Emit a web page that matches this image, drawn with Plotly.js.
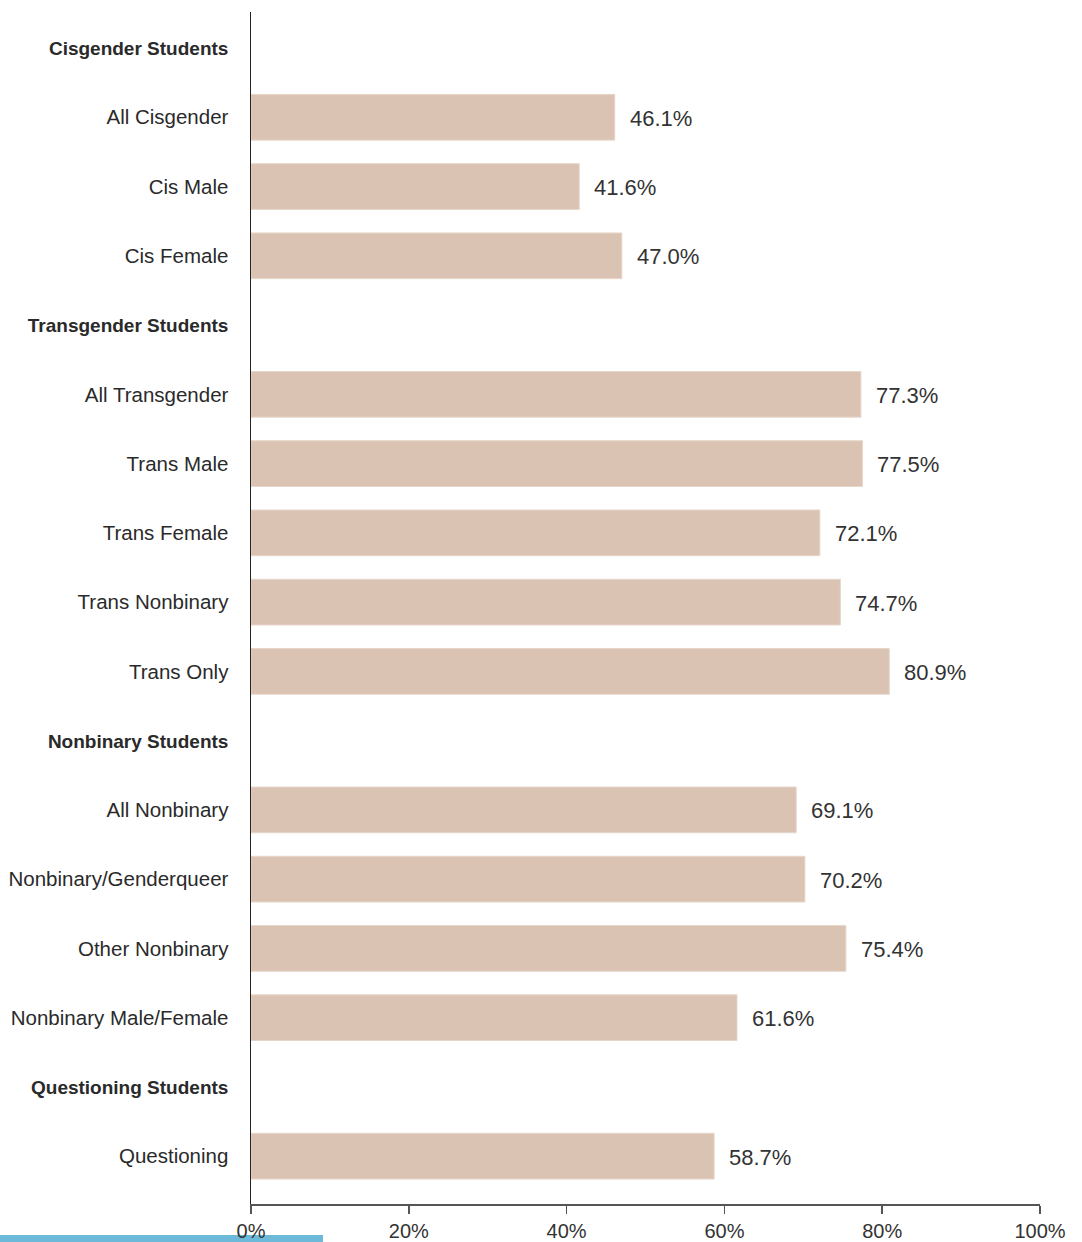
<!DOCTYPE html>
<html>
<head>
<meta charset="utf-8">
<script src="https://cdn.plot.ly/plotly-3.0.1.min.js"></script>
<style>html,body{margin:0;padding:0;background:#fff;}#chart{width:1082px;height:1242px;}</style>
</head>
<body>
<div id="chart"></div>
<script>
var categories = [
  "Cisgender Students", "All Cisgender", "Cis Male", "Cis Female",
  "Transgender Students", "All Transgender", "Trans Male", "Trans Female", "Trans Nonbinary", "Trans Only",
  "Nonbinary Students", "All Nonbinary", "Nonbinary/Genderqueer", "Other Nonbinary", "Nonbinary Male/Female",
  "Questioning Students", "Questioning"
];
var headers = ["Cisgender Students", "Transgender Students", "Nonbinary Students", "Questioning Students"];
var values = [
  null, 46.1, 41.6, 47.0,
  null, 77.3, 77.5, 72.1, 74.7, 80.9,
  null, 69.1, 70.2, 75.4, 61.6,
  null, 58.7
];
var xTickValues = [0, 20, 40, 60, 80, 100];
var xTickLabels = ["0%", "20%", "40%", "60%", "80%", "100%"];

var tickText = categories.map(function (c) {
  return headers.indexOf(c) >= 0 ? "<b><span style=\"font-size:19px\">" + c + "</span></b>" : c;
});

var fontFamily = "'Liberation Sans', Arial, sans-serif";

var annotations = [];
categories.forEach(function (c, i) {
  if (values[i] !== null) {
    annotations.push({
      x: values[i], y: c, xref: "x", yref: "y",
      text: values[i].toFixed(1) + "%",
      showarrow: false, xanchor: "left", yanchor: "middle",
      xshift: 13, yshift: -1,
      font: {family: fontFamily, size: 22, color: "#333333"}
    });
  }
});

var trace = {
  type: "bar",
  orientation: "h",
  y: categories,
  x: values,
  width: 0.66,
  marker: {color: "#dbc3b3", line: {color: "#e6d6ca", width: 1}},
  hoverinfo: "none"
};

var layout = {
  width: 1082,
  height: 1242,
  margin: {l: 251, r: 42, t: 12, b: 38},
  paper_bgcolor: "#ffffff",
  plot_bgcolor: "#ffffff",
  showlegend: false,
  font: {family: fontFamily, size: 20.5, color: "#2a2a2a"},
  xaxis: {
    range: [0, 100],
    tickvals: xTickValues,
    ticktext: xTickLabels,
    ticks: "outside",
    ticklen: 8,
    tickwidth: 1.5,
    tickcolor: "#555555",
    showline: true,
    linecolor: "#555555",
    linewidth: 1.5,
    showgrid: false,
    zeroline: false,
    fixedrange: true,
    tickfont: {family: fontFamily, size: 20, color: "#333333"}
  },
  yaxis: {
    type: "category",
    categoryorder: "array",
    categoryarray: categories,
    range: [16.69, -0.52],
    tickvals: categories,
    ticktext: tickText,
    ticks: "",
    ticklabelstandoff: 17,
    showline: true,
    linecolor: "#222222",
    linewidth: 1.5,
    showgrid: false,
    zeroline: false,
    fixedrange: true,
    tickfont: {family: fontFamily, size: 20.5, color: "#2a2a2a"}
  },
  annotations: annotations,
  shapes: [{
    type: "rect", xref: "paper", yref: "paper",
    x0: -251 / 789, x1: (323 - 251) / 789,
    y0: -31 / 1192, y1: -40 / 1192,
    fillcolor: "#6cb9d9", line: {width: 0}, layer: "below"
  }]
};

Plotly.newPlot("chart", [trace], layout, {displayModeBar: false, staticPlot: true});
</script>
</body>
</html>
